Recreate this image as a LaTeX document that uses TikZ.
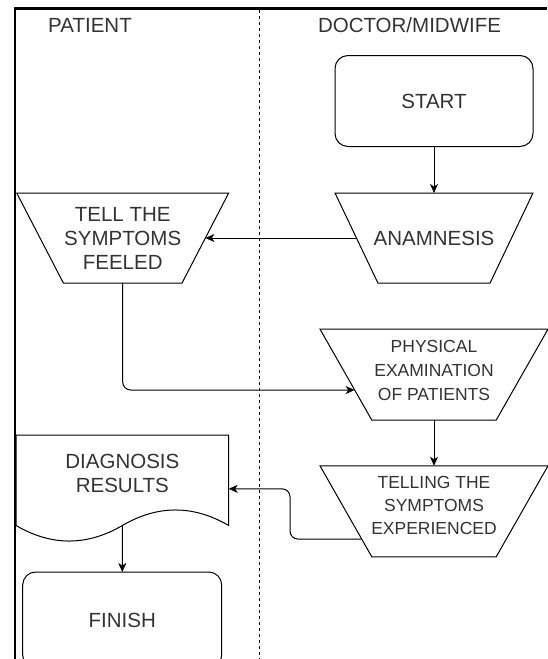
\documentclass[tikz,border=0pt]{standalone}
\usepackage{fontspec}
\setmainfont{Liberation Sans}
\usetikzlibrary{shapes.geometric,arrows.meta,calc}
\definecolor{txt}{HTML}{333333}
% centred stack of lines whose last baseline is lowered by #1
\newcommand{\zbx}[2]{\makebox[0pt]{\raisebox{#1}{\begin{tabular}[b]{@{}c@{}}#2\end{tabular}}}}
\begin{document}
\begin{tikzpicture}[x=1pt,y=-1pt,
  bigfont/.style={font=\fontsize{20.5}{24}\selectfont, text=txt},
  smallfont/.style={font=\fontsize{17.5}{24}\selectfont, text=txt},
  smallerfont/.style={font=\fontsize{17.5}{23}\selectfont, text=txt},
  onecap/.style={text height=14.7pt, text depth=0pt},
  trap/.style={trapezium, trapezium stretches body, shape border rotate=180,
    draw, line width=1pt, inner sep=0pt, outer sep=0pt},
  h90/.style={text height=45pt, text depth=45pt},
  h91/.style={text height=45.5pt, text depth=45.5pt},
  term/.style={rectangle, rounded corners=13pt, draw, line width=1pt, inner sep=0pt,
    outer sep=0pt, minimum width=198pt, minimum height=91pt, bigfont, onecap},
  lane/.style={bigfont, inner sep=0pt, onecap},
  arr/.style={-{Stealth[length=9pt,width=8pt,inset=2.5pt]}, line width=1pt},
  lanesep/.style={line width=1pt, dash pattern=on 3pt off 3pt},
  border/.style={line width=2.5pt}]
\useasboundingbox (0,0) rectangle (547,659);

% pool borders and lane separator
\draw[border] (15,659) -- (15,8.5) -- (547,8.5);
\draw[lanesep] (259,10) -- (259,659);

% lane titles
\node[lane] (lpat) at (90,25) {PATIENT};
\node[lane] (ldoc) at (409.5,25) {DOCTOR/MIDWIFE};

% shapes
\node[term] (start) at (434,101) {START};
\node[trap, bigfont, h90, minimum width=198pt,
  trapezium left angle=64.5, trapezium right angle=64.5] (anam) at (434,238)
  {\zbx{-7.3pt}{ANAMNESIS}};
\node[trap, bigfont, h90, minimum width=212pt,
  trapezium left angle=62.6, trapezium right angle=62.6] (tell) at (122.7,238)
  {\zbx{-31pt}{TELL THE\\SYMPTOMS\\FEELED}};
\node[trap, smallfont, h91, minimum width=228pt,
  trapezium left angle=60.35, trapezium right angle=60.35] (phys) at (434,374.6)
  {\zbx{-25.7pt}{PHYSICAL\\EXAMINATION\\OF PATIENTS}};
\node[trap, smallerfont, h91, minimum width=228pt,
  trapezium left angle=60.35, trapezium right angle=60.35] (telling) at (434,511.3)
  {\zbx{-23pt}{TELLING THE\\SYMPTOMS\\EXPERIENCED}};

% document shape
\node[rectangle, inner sep=0pt, outer sep=0pt, minimum width=212.7pt,
  minimum height=107.7pt] (diag) at (122.35,488.85) {};
\draw[line width=1pt] (16,525.5) -- (16,435) -- (228.7,435) -- (228.7,525.5)
  .. controls (193.2,504.8) and (157.8,504.8) .. (122.35,525.5)
  .. controls (86.9,546.2) and (51.5,546.2) .. (16,525.5) -- cycle;
\node[bigfont, inner sep=0pt, text height=0pt, text depth=0pt] (diagtxt)
  at (122.35,492.3) {\zbx{0pt}{DIAGNOSIS\\RESULTS}};
\coordinate (diagb) at (122.35,525.5);

\node[term, minimum width=199pt, minimum height=96pt] (finish) at (122.2,620) {FINISH};

% connectors
\draw[arr] (start) -- (anam);
\draw[arr] (anam.180) -- (tell.0);
\draw[arr, rounded corners=8pt] (tell.270) |- (phys.191);
\draw[arr] (phys) -- (telling);
\draw[arr, rounded corners=8pt] (telling.201) -| ([xshift=61.3pt]diag.east) -- (diag.east);
\draw[arr] (diagb) -- (finish);
\end{tikzpicture}
\end{document}
